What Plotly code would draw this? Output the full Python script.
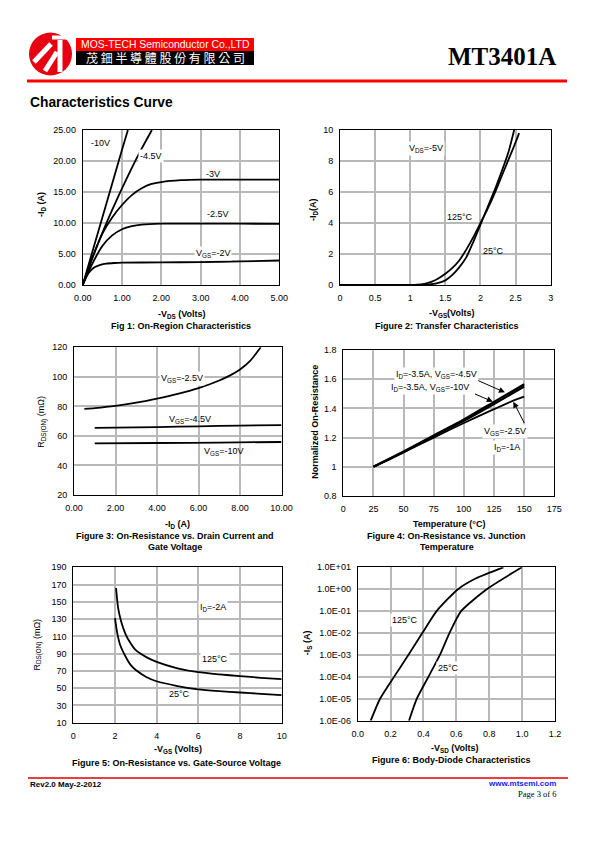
import plotly.graph_objects as go

# page offset of the plot div (browser body margin) and figure size
OFF = 8
W, H = 595 - 2 * OFF, 842 - 2 * OFF


def px(x):
    return (x - OFF) / W


def py(y):
    return 1 - (y - OFF) / H


# ---------------- DATA ----------------
# Fig 1: On-Region Characteristics (-ID vs -VDS)
f1_vds_10 = [0, 0.5, 1.0, 1.15]
f1_id_10 = [0, 10.9, 21.8, 25.0]
f1_vds_45 = [0, 0.25, 0.5, 0.75, 1.0, 1.25, 1.5, 1.76]
f1_id_45 = [0, 4.4, 8.4, 12.1, 15.6, 18.9, 22.0, 25.0]
f1_vds_3 = [0, 0.25, 0.5, 0.75, 1.0, 1.25, 1.5, 1.75, 2.0, 2.5, 3.0, 4.0, 5.0]
f1_id_3 = [0, 4.5, 8.3, 10.9, 12.9, 14.5, 15.6, 16.3, 16.6, 16.9, 17.0, 17.0, 17.0]
f1_vds_25 = [0, 0.25, 0.5, 0.75, 1.0, 1.25, 1.5, 2.0, 3.0, 4.0, 5.0]
f1_id_25 = [0, 3.5, 6.3, 8.0, 9.0, 9.5, 9.75, 9.9, 9.9, 9.9, 9.85]
f1_vds_2 = [0, 0.1, 0.2, 0.3, 0.45, 0.6, 0.8, 1.0, 2.0, 3.0, 4.0, 5.0]
f1_id_2 = [0, 1.4, 2.3, 2.85, 3.25, 3.45, 3.55, 3.6, 3.65, 3.7, 3.8, 3.95]

# Fig 2: Transfer Characteristics (-ID vs -VGS)
f2_vgs_125 = [0, 1.0, 1.1, 1.2, 1.3, 1.4, 1.5, 1.6, 1.7, 1.8, 1.9, 2.0, 2.1, 2.2, 2.3, 2.4, 2.5, 2.55]
f2_id_125 = [0, 0, 0.02, 0.08, 0.2, 0.42, 0.72, 1.1, 1.6, 2.3, 3.1, 4.0, 4.9, 5.9, 7.0, 8.1, 9.2, 9.8]
f2_vgs_25 = [0, 1.2, 1.3, 1.4, 1.5, 1.6, 1.7, 1.8, 1.9, 2.0, 2.1, 2.2, 2.3, 2.4, 2.48]
f2_id_25 = [0, 0, 0.05, 0.14, 0.3, 0.65, 1.15, 1.8, 2.8, 3.9, 5.0, 6.1, 7.3, 8.6, 10.0]

# Fig 3: On-Resistance vs Drain Current
f3_id_25 = [0.5, 1, 2, 3, 4, 5, 6, 7, 7.5, 8, 8.5, 9.0]
f3_r_25 = [78.3, 78.8, 80.3, 82.5, 85.3, 88.5, 92.3, 97.5, 100.8, 105, 111, 120]
f3_id_45 = [1, 2, 4, 6, 8, 10]
f3_r_45 = [65.5, 65.6, 66.0, 66.5, 67.0, 67.3]
f3_id_10 = [1, 4, 7, 10]
f3_r_10 = [55.0, 55.2, 55.5, 55.9]

# Fig 4: Normalized On-Resistance vs Junction Temperature
f4_t = [25, 50, 75, 100, 125, 150]
f4_r_45 = [1.0, 1.105, 1.215, 1.325, 1.445, 1.565]
f4_r_10 = [1.0, 1.1, 1.21, 1.315, 1.43, 1.55]
f4_t_25 = [25, 50, 75, 100, 125, 140, 150]
f4_r_25 = [1.0, 1.1, 1.2, 1.3, 1.395, 1.45, 1.48]

# Fig 5: On-Resistance vs Gate-Source Voltage
f5_vgs_125 = [2.05, 2.15, 2.3, 2.5, 2.75, 3, 3.5, 4, 5, 6, 7, 8, 9, 10]
f5_r_125 = [166, 143, 127, 113, 102, 94, 86, 80.5, 73, 68.5, 66, 64, 62, 60.5]
f5_vgs_25 = [2.0, 2.1, 2.25, 2.5, 2.75, 3, 3.5, 4, 5, 6, 7, 8, 9, 10]
f5_r_25 = [131, 115, 100, 87, 77, 71, 63, 58, 52.5, 48.5, 46.5, 45, 43.5, 42]

# Fig 6: Body-Diode Characteristics
f6_vsd_125 = [0.079, 0.136, 0.221, 0.308, 0.393, 0.48, 0.61, 0.72, 0.886]
f6_is_125 = [1e-6, 1e-5, 1e-4, 1e-3, 1e-2, 1e-1, 1e0, 10 ** 0.5, 1e1]
f6_vsd_25 = [0.312, 0.359, 0.43, 0.50, 0.558, 0.629, 0.785, 0.998]
f6_is_25 = [1e-6, 1e-5, 1e-4, 1e-3, 1e-2, 1e-1, 1e0, 1e1]
f6_tickvals = [1e-6, 1e-5, 1e-4, 1e-3, 1e-2, 1e-1, 1e0, 1e1]
f6_ticktext = ["1.0E-06", "1.0E-05", "1.0E-04", "1.0E-03", "1.0E-02", "1.0E-01", "1.0E+00", "1.0E+01"]

# ---------------- FIGURE ----------------
FONT = "Liberation Sans"
fig = go.Figure()


def line(x, y, ax, w=1.8, shape="spline"):
    fig.add_trace(go.Scatter(x=x, y=y, mode="lines", xaxis="x" + ax, yaxis="y" + ax,
                             line=dict(color="black", width=w, shape=shape, smoothing=0.6),
                             showlegend=False, hoverinfo="skip"))


line(f1_vds_10, f1_id_10, "")
line(f1_vds_45, f1_id_45, "")
line(f1_vds_3, f1_id_3, "")
line(f1_vds_25, f1_id_25, "")
line(f1_vds_2, f1_id_2, "")
line(f2_vgs_125, f2_id_125, "2")
line(f2_vgs_25, f2_id_25, "2")
line(f3_id_25, f3_r_25, "3")
line(f3_id_45, f3_r_45, "3")
line(f3_id_10, f3_r_10, "3")
line(f4_t, f4_r_45, "4", w=2.2)
line(f4_t, f4_r_10, "4", w=2.2)
line(f4_t_25, f4_r_25, "4")
line(f5_vgs_125, f5_r_125, "5")
line(f5_vgs_25, f5_r_25, "5")
line(f6_vsd_125, f6_is_125, "6")
line(f6_vsd_25, f6_is_25, "6")

# plot-area pixel boxes (left, right, top, bottom) in page pixels
boxes = {
    "": (82.7, 279.3, 130, 285),
    "2": (340, 550.7, 130, 285),
    "3": (74, 281.5, 347.3, 495),
    "4": (343.3, 554.3, 350, 496),
    "5": (73.3, 281.7, 567.3, 722.7),
    "6": (357.7, 555, 567.3, 720.7),
}
xcfg = {
    "": dict(range=[0, 5], dtick=1, tick0=0, tickformat=".2f"),
    "2": dict(range=[0, 3], dtick=0.5, tick0=0),
    "3": dict(range=[0, 10], dtick=2, tick0=0, tickformat=".2f"),
    "4": dict(range=[0, 175], dtick=25, tick0=0),
    "5": dict(range=[0, 10], dtick=2, tick0=0),
    "6": dict(range=[0, 1.2], dtick=0.2, tick0=0, tickformat=".1f"),
}
ycfg = {
    "": dict(range=[0, 25], dtick=5, tick0=0, tickformat=".2f"),
    "2": dict(range=[0, 10], dtick=2, tick0=0),
    "3": dict(range=[20, 120], dtick=20, tick0=20),
    "4": dict(range=[0.8, 1.8], dtick=0.2, tick0=0.8),
    "5": dict(range=[10, 190], dtick=20, tick0=10),
    "6": dict(type="log", range=[-6, 1], tickvals=f6_tickvals, ticktext=f6_ticktext),
}
common = dict(showgrid=True, gridcolor="#b9b9b9", gridwidth=1.6, zeroline=False,
              showline=True, linecolor="black", linewidth=1, mirror=True,
              ticks="", tickfont=dict(family=FONT, size=9, color="black"),
              ticklabelstandoff=4, fixedrange=True, automargin=False)
lay = {}
for k, (l, r, t, b) in boxes.items():
    lay["xaxis" + k] = dict(common, domain=[px(l), px(r)], anchor="y" + k, **xcfg[k])
    lay["yaxis" + k] = dict(common, domain=[py(b), py(t)], anchor="x" + k, **ycfg[k])

fig.update_layout(width=W, height=H, autosize=False, margin=dict(l=0, r=0, t=0, b=0, pad=0),
                  paper_bgcolor="white", plot_bgcolor="white", showlegend=False, **lay)

ann = []


def ptext(x, y, text, size=9, bold=False, xanchor="center", color="black", family=FONT, angle=0):
    if bold:
        text = "<b>" + text + "</b>"
    ann.append(dict(x=px(x), y=py(y), xref="paper", yref="paper", text=text, showarrow=False,
                    xanchor=xanchor, yanchor="middle", textangle=angle,
                    font=dict(family=family, size=size, color=color)))


def dtext(ax, x, y, text, bg=None, size=9):
    d = dict(x=x, y=y, xref="x" + ax, yref="y" + ax, text=text, showarrow=False,
             xanchor="center", yanchor="middle", font=dict(family=FONT, size=size, color="black"),
             borderpad=1)
    if bg:
        d["bgcolor"] = bg
    ann.append(d)


# axis titles and captions
ptext(181.7, 314, "-V<sub>DS</sub> (Volts)", bold=True)
ptext(180.7, 325.7, "Fig 1: On-Region Characteristics", bold=True)
ptext(451.7, 313, "-V<sub>GS</sub>(Volts)", bold=True)
ptext(446.7, 325.7, "Figure 2: Transfer Characteristics", bold=True)
ptext(177, 524, "-I<sub>D</sub> (A)", bold=True)
ptext(175, 535.5, "Figure 3: On-Resistance vs. Drain Current and", bold=True)
ptext(175, 546.5, "Gate Voltage", bold=True)
ptext(448.7, 524, "Temperature (°C)", bold=True)
ptext(446.7, 535.5, "Figure 4: On-Resistance vs. Junction", bold=True)
ptext(446.7, 546.5, "Temperature", bold=True)
ptext(177.7, 749.3, "-V<sub>GS</sub> (Volts)", bold=True)
ptext(176.7, 763.3, "Figure 5: On-Resistance vs. Gate-Source Voltage", bold=True)
ptext(455, 748.3, "-V<sub>SD</sub> (Volts)", bold=True)
ptext(451.7, 760, "Figure 6: Body-Diode Characteristics", bold=True)

ptext(42, 205, "-I<sub>D</sub> (A)", bold=True, angle=-90)
ptext(313, 210, "-I<sub>D</sub>(A)", bold=True, angle=-90)
ptext(42, 421.7, "R<sub>DS(ON)</sub> (mΩ)", angle=-90)
ptext(315, 421.7, "Normalized On-Resistance", bold=True, angle=-90)
ptext(37.5, 645, "R<sub>DS(ON)</sub> (mΩ)", angle=-90)
ptext(307, 643.3, "-I<sub>S</sub> (A)", bold=True, angle=-90)

# in-plot labels
dtext("", 0.46, 22.9, "-10V")
dtext("", 1.74, 20.8, "-4.5V", bg="white")
dtext("", 3.32, 17.85, "-3V")
dtext("", 3.45, 11.4, "-2.5V")
dtext("", 3.32, 5.1, "V<sub>GS</sub>=-2V", bg="white")
dtext("2", 1.23, 8.8, "V<sub>DS</sub>=-5V", bg="white")
dtext("2", 1.71, 4.4, "125°C")
dtext("2", 2.18, 2.2, "25°C")
dtext("3", 5.2, 99, "V<sub>GS</sub>=-2.5V", bg="white")
dtext("3", 5.6, 71.2, "V<sub>GS</sub>=-4.5V")
dtext("3", 7.2, 49.3, "V<sub>GS</sub>=-10V")
dtext("4", 77.4, 1.635, "I<sub>D</sub>=-3.5A, V<sub>GS</sub>=-4.5V", bg="white")
dtext("4", 72, 1.54, "I<sub>D</sub>=-3.5A, V<sub>GS</sub>=-10V", bg="white")
dtext("4", 134, 1.245, "V<sub>GS</sub>=-2.5V", bg="white")
dtext("4", 135.5, 1.13, "I<sub>D</sub>=-1A", bg="white")
dtext("5", 6.7, 143, "I<sub>D</sub>=-2A", bg="white")
dtext("5", 6.8, 84, "125°C", bg="white")
dtext("5", 5.1, 43.3, "25°C")
ann.append(dict(x=0.288, y=-1.4, xref="x6", yref="y6", text="125°C", showarrow=False,
                font=dict(family=FONT, size=9, color="black"), bgcolor="white", borderpad=1))
ann.append(dict(x=0.552, y=-3.61, xref="x6", yref="y6", text="25°C", showarrow=False,
                font=dict(family=FONT, size=9, color="black"), bgcolor="white", borderpad=1))

# arrows in fig 4
for (hx, hy, tx, ty) in [(134, 1.51, 110.6, 1.595), (124, 1.446, 108, 1.503), (141, 1.446, 150.7, 1.29)]:
    ann.append(dict(x=hx, y=hy, ax=tx, ay=ty, xref="x4", yref="y4", axref="x4", ayref="y4",
                    text="", showarrow=True, arrowhead=2, arrowsize=1.2, arrowwidth=1,
                    arrowcolor="black", standoff=0))

# header / footer texts
ptext(28, 103, "Characteristics Curve", size=13.8, bold=True, xanchor="left")
ptext(502, 57, "MT3401A", size=25, bold=True, family="Liberation Serif")
ptext(165, 44.5, "MOS-TECH Semiconductor Co.,LTD", size=10.4, color="white")
ptext(165, 58, "茂 鈿 半 導 體 股 份 有 限 公 司", size=12, color="white", family="Noto Sans CJK TC")
ptext(28, 784, "Rev2.0 May-2-2012", size=8, bold=True, xanchor="left")
ptext(558, 783.5, "www.mtsemi.com", size=8, bold=True, xanchor="right", color="#1a1aff")
ptext(558, 793.5, "Page 3 of 6", size=8.5, xanchor="right", family="Liberation Serif")

shapes = []


def rect(x0, y0, x1, y1, color):
    shapes.append(dict(type="rect", xref="paper", yref="paper", x0=px(x0), x1=px(x1),
                       y0=py(y1), y1=py(y0), fillcolor=color, line=dict(width=0), layer="below"))


def seg(x0, y0, x1, y1, color, w):
    shapes.append(dict(type="line", xref="paper", yref="paper", x0=px(x0), x1=px(x1),
                       y0=py(y0), y1=py(y1), line=dict(color=color, width=w)))


rect(76, 38, 254, 51, "#ff0000")
rect(76, 51, 254, 65, "#000000")
shapes.append(dict(type="circle", xref="paper", yref="paper", x0=px(29), x1=px(72),
                   y0=py(75.5), y1=py(32.5), fillcolor="#e60012", line=dict(width=0)))
seg(34, 62, 51, 44, "white", 5)
seg(45, 71, 57, 52, "white", 5)
seg(60, 40, 60, 72, "white", 5)
seg(52, 37.5, 71, 37.5, "white", 4)
seg(27, 81, 567, 81, "#ff0000", 3)
seg(28, 778, 568, 778, "#e00000", 1.5)

fig.update_layout(annotations=ann, shapes=shapes)
fig.write_html("out.html", config={"displayModeBar": False})
